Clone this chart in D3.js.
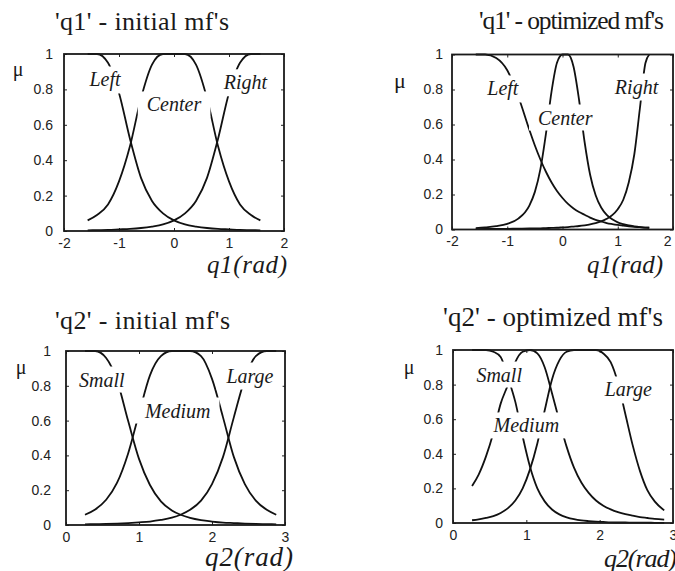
<!DOCTYPE html>
<html>
<head>
<meta charset="utf-8">
<script src="https://cdn.jsdelivr.net/npm/d3@7"></script>
<style>
  body { margin: 0; background: #fff; }
  .tick text { font-family: "Liberation Sans", Arial, sans-serif; font-size: 14px; fill: #222; }
  .mfname { font-family: "Liberation Serif", "Times New Roman", serif; font-style: italic; font-size: 20px; fill: #1a1a1a; }
  .title { font-family: "Liberation Serif", "Times New Roman", serif; fill: #1a1a1a; }
  .xlab { font-family: "Liberation Serif", "Times New Roman", serif; font-style: italic; fill: #1a1a1a; }
  .mu { font-family: "Liberation Serif", "Times New Roman", serif; fill: #1a1a1a; }
</style>
</head>
<body>
<div id="chart"></div>
<script>
// ---- data ----
// q1 (rad) sample points, initial mfs
const q1InitGrid   = [-1.57, -1.4, -1.2, -1.0, -0.8, -0.6, -0.4, -0.2, 0, 0.2, 0.4, 0.6, 0.8, 1.0, 1.2, 1.4, 1.57];
const q1InitLeft   = [1, 1, 0.95, 0.78, 0.52, 0.30, 0.17, 0.10, 0.06, 0.037, 0.025, 0.017, 0.012, 0.009, 0.006, 0.005, 0.004];
const q1InitCenter = [0.06, 0.09, 0.15, 0.28, 0.48, 0.75, 0.94, 1, 1, 1, 0.94, 0.75, 0.48, 0.28, 0.15, 0.09, 0.06];
const q1InitRight  = [0.004, 0.005, 0.006, 0.009, 0.012, 0.017, 0.025, 0.037, 0.06, 0.10, 0.17, 0.30, 0.52, 0.78, 0.95, 1, 1];

// q1 optimized mfs
const q1OptGrid   = [-1.57, -1.4, -1.2, -1.0, -0.8, -0.6, -0.5, -0.4, -0.3, -0.2, -0.1, 0, 0.1, 0.2,
                     0.3, 0.4, 0.5, 0.6, 0.7, 0.8, 0.9, 1.0, 1.1, 1.2, 1.3, 1.4, 1.5, 1.57];
const q1OptLeft   = [1, 1, 0.98, 0.91, 0.76, 0.57, 0.48, 0.40, 0.33, 0.27, 0.22, 0.18, 0.146, 0.12,
                     0.10, 0.084, 0.068, 0.055, 0.046, 0.037, 0.031, 0.026, 0.022, 0.018, 0.015, 0.013, 0.011, 0.01];
const q1OptCenter = [0.008, 0.012, 0.019, 0.032, 0.062, 0.137, 0.215, 0.345, 0.546, 0.785, 0.953, 1, 1, 0.93,
                     0.74, 0.5, 0.313, 0.196, 0.126, 0.084, 0.058, 0.041, 0.031, 0.023, 0.018, 0.014, 0.011, 0.01];
const q1OptRight  = [0.002, 0.003, 0.003, 0.004, 0.005, 0.006, 0.006, 0.007, 0.008, 0.009, 0.010, 0.012, 0.014, 0.017,
                     0.020, 0.024, 0.029, 0.036, 0.046, 0.061, 0.082, 0.116, 0.17, 0.27, 0.43, 0.69, 0.95, 1];

// q2 (rad) sample points, initial mfs
const q2InitGrid   = [0.26, 0.4, 0.55, 0.7, 0.85, 1.0, 1.15, 1.3, 1.45, 1.57, 1.7, 1.85, 2.0, 2.15, 2.3, 2.45, 2.6, 2.75, 2.88];
const q2InitSmall  = [1, 1, 0.96, 0.83, 0.60, 0.38, 0.23, 0.136, 0.084, 0.059, 0.041, 0.028, 0.020, 0.014, 0.011, 0.008, 0.006, 0.005, 0.004];
const q2InitMedium = [0.059, 0.089, 0.145, 0.243, 0.41, 0.64, 0.86, 0.97, 1, 1, 1, 0.97, 0.84, 0.62, 0.39, 0.235, 0.14, 0.087, 0.059];
const q2InitLarge  = [0.004, 0.005, 0.006, 0.008, 0.011, 0.015, 0.020, 0.029, 0.042, 0.059, 0.087, 0.14, 0.235, 0.39, 0.62, 0.84, 0.97, 1, 1];

// q2 optimized mfs
const q2OptGrid   = [0.26, 0.35, 0.45, 0.55, 0.65, 0.75, 0.85, 0.95, 1.05, 1.15, 1.25, 1.35, 1.45, 1.55,
                     1.65, 1.75, 1.85, 1.95, 2.05, 2.15, 2.25, 2.35, 2.45, 2.55, 2.65, 2.75, 2.88];
const q2OptSmall  = [1, 1, 1, 0.99, 0.96, 0.84, 0.70, 0.50, 0.325, 0.20, 0.125, 0.078, 0.050, 0.033,
                     0.022, 0.015, 0.011, 0.008, 0.006, 0.004, 0.003, 0.003, 0.002, 0.002, 0.002, 0.001, 0.001];
const q2OptMedium = [0.214, 0.28, 0.385, 0.52, 0.69, 0.80, 0.93, 0.99, 1, 0.98, 0.90, 0.75, 0.59, 0.44,
                     0.32, 0.234, 0.174, 0.13, 0.10, 0.079, 0.063, 0.051, 0.042, 0.034, 0.029, 0.024, 0.020];
const q2OptLarge  = [0.016, 0.021, 0.029, 0.040, 0.058, 0.086, 0.13, 0.20, 0.31, 0.46, 0.65, 0.83, 0.94, 0.99,
                     1, 1, 1, 1, 0.98, 0.93, 0.81, 0.63, 0.45, 0.30, 0.19, 0.125, 0.073];

const q1Names = ["Left", "Center", "Right"];
const q2Names = ["Small", "Medium", "Large"];
const q1Ticks = [-2, -1, 0, 1, 2];
const q2Ticks = [0, 1, 2, 3];
const muTicks = [0, 0.2, 0.4, 0.6, 0.8, 1];
const muTickLabels = ["0", "0.2", "0.4", "0.6", "0.8", "1"];

// ---- layout of the four panels ----
const panels = [
  { title: "'q1' - initial mf's", xlabel: "q1(rad)", grid: q1InitGrid,
    series: [q1InitLeft, q1InitCenter, q1InitRight], names: q1Names,
    namePos: [[-1.255, 0.856], [0, 0.715], [1.30, 0.84]],
    xDomain: [-2, 2], xTicks: q1Ticks, box: [64, 54, 284, 231], yGap: 11, lastTickEnd: false,
    titleX: 55, titleY: 30, titleLen: 174, titleSize: 26,
    xlabX: 207, xlabY: 273, xlabLen: 80, xlabSize: 25, muX: 18, muY: 76, muSize: 20 },
  { title: "'q1' - optimized mf's", xlabel: "q1(rad)", grid: q1OptGrid,
    series: [q1OptLeft, q1OptCenter, q1OptRight], names: q1Names,
    namePos: [[-1.08, 0.806], [0.05, 0.64], [1.34, 0.817]],
    xDomain: [-2, 2], xTicks: q1Ticks, box: [452, 54.5, 673, 229.5], yGap: 9, lastTickEnd: true,
    titleX: 479, titleY: 29, titleLen: 185, titleSize: 25.5,
    xlabX: 587, xlabY: 273, xlabLen: 76, xlabSize: 25, muX: 400, muY: 88, muSize: 22 },
  { title: "'q2' - initial mf's", xlabel: "q2(rad)", grid: q2InitGrid,
    series: [q2InitSmall, q2InitMedium, q2InitLarge], names: q2Names,
    namePos: [[0.49, 0.836], [1.53, 0.658], [2.52, 0.859]],
    xDomain: [0, 3], xTicks: q2Ticks, box: [66, 351, 285, 525], yGap: 15, lastTickEnd: false,
    titleX: 55, titleY: 329, titleLen: 175, titleSize: 26,
    xlabX: 205, xlabY: 566, xlabLen: 88, xlabSize: 27, muX: 21, muY: 374, muSize: 20 },
  { title: "'q2' - optimized mf's", xlabel: "q2(rad)", grid: q2OptGrid,
    series: [q2OptSmall, q2OptMedium, q2OptLarge], names: q2Names,
    namePos: [[0.63, 0.858], [1.0, 0.564], [2.39, 0.772]],
    xDomain: [0, 3], xTicks: q2Ticks, box: [453, 350, 673, 523], yGap: 10, lastTickEnd: false,
    titleX: 443, titleY: 326, titleLen: 220, titleSize: 27,
    xlabX: 604, xlabY: 567, xlabLen: 73, xlabSize: 26, muX: 409, muY: 374, muSize: 20 }
];

const svg = d3.select("#chart").append("svg")
  .attr("width", 675)
  .attr("height", 571)
  .style("background", "#fff");

panels.forEach(p => {
  const [left, top, right, bottom] = p.box;
  const x = d3.scaleLinear().domain(p.xDomain).range([left, right]);
  const y = d3.scaleLinear().domain([0, 1]).range([bottom, top]);
  const g = svg.append("g");

  // ticks point inward on all four sides, labels only bottom/left
  const xAxis = g.append("g").attr("transform", `translate(0,${bottom})`).attr("color", "#222")
    .call(d3.axisBottom(x).tickValues(p.xTicks).tickFormat(String)
      .tickSizeInner(-3).tickSizeOuter(0).tickPadding(7));
  if (p.lastTickEnd) {
    // the last label is pulled inside the page as in the scan
    xAxis.selectAll(".tick:last-of-type text").attr("text-anchor", "end").attr("x", -2);
  }
  g.append("g").attr("transform", `translate(0,${top})`).attr("color", "#222")
    .call(d3.axisTop(x).tickValues(p.xTicks).tickFormat("")
      .tickSizeInner(-3).tickSizeOuter(0));
  g.append("g").attr("transform", `translate(${left},0)`).attr("color", "#222")
    .call(d3.axisLeft(y).tickValues(muTicks).tickFormat((d, i) => muTickLabels[i])
      .tickSizeInner(-3).tickSizeOuter(0).tickPadding(p.yGap));
  g.append("g").attr("transform", `translate(${right},0)`).attr("color", "#222")
    .call(d3.axisRight(y).tickValues(muTicks).tickFormat("")
      .tickSizeInner(-3).tickSizeOuter(0));
  g.selectAll(".domain").remove();

  // membership functions
  const line = d3.line()
    .x((d, i) => x(p.grid[i]))
    .y(d => y(d))
    .curve(d3.curveMonotoneX);

  g.selectAll("path.mf")
    .data(p.series)
    .join("path")
    .attr("class", "mf")
    .attr("d", line)
    .attr("fill", "none")
    .attr("stroke", "#111")
    .attr("stroke-width", 1.8);

  // mf names sit on white boxes that cut the curves
  p.names.forEach((name, i) => {
    const [lx, ly] = p.namePos[i];
    const lg = g.append("g");
    const t = lg.append("text")
      .attr("class", "mfname")
      .attr("x", x(lx))
      .attr("y", y(ly))
      .attr("dy", "0.35em")
      .attr("text-anchor", "middle")
      .text(name);
    const b = t.node().getBBox();
    lg.insert("rect", "text")
      .attr("x", b.x - 9)
      .attr("y", b.y - 2)
      .attr("width", b.width + 18)
      .attr("height", b.height + 4)
      .attr("fill", "#fff");
  });

  // frame
  g.append("rect")
    .attr("x", left).attr("y", top)
    .attr("width", right - left).attr("height", bottom - top)
    .attr("fill", "none").attr("stroke", "#1a1a1a").attr("stroke-width", 1.8);

  g.append("text").attr("class", "title")
    .attr("x", p.titleX).attr("y", p.titleY)
    .attr("font-size", p.titleSize)
    .attr("textLength", p.titleLen)
    .text(p.title);

  g.append("text").attr("class", "xlab")
    .attr("x", p.xlabX).attr("y", p.xlabY)
    .attr("font-size", p.xlabSize)
    .attr("textLength", p.xlabLen)
    .text(p.xlabel);

  g.append("text").attr("class", "mu")
    .attr("x", p.muX).attr("y", p.muY)
    .attr("text-anchor", "middle")
    .attr("font-size", p.muSize)
    .text("\u03BC");
});
</script>
</body>
</html>
